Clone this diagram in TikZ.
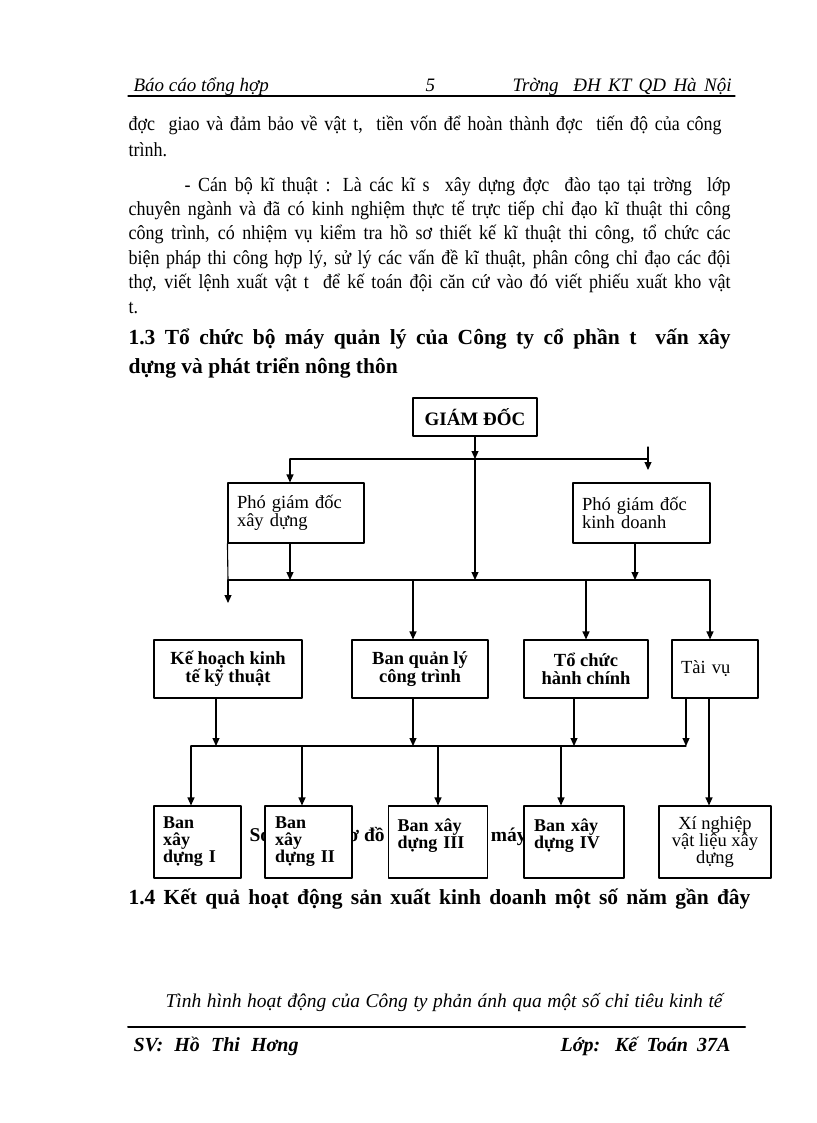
\documentclass[tikz,border=0pt]{standalone}
\usepackage{fontspec}
\setmainfont{Liberation Serif}
\newfontfamily\bodyfont[FakeStretch=0.9]{Liberation Serif}
\usetikzlibrary{arrows.meta}
\tikzset{
  box/.style={draw, line width=1.1pt, fill=white, inner sep=0pt},
  arr/.style={-{Triangle[length=8pt,width=7pt]}},
  txt/.style={anchor=base west, inner sep=0pt, font=\bodyfont\fontsize{20}{22}\selectfont},
  head/.style={anchor=base west, inner sep=0pt, font=\fontsize{21.5}{24}\selectfont\bfseries},
}
\begin{document}
\begin{tikzpicture}[x=1pt, y=-1pt, line width=1.1pt, line cap=round, line join=round]
  \fill[white] (0,0) rectangle (816,1123);
  \useasboundingbox (0,0) rectangle (816,1123);
  % header
  \node[txt, font=\fontsize{19}{20}\selectfont\itshape] (hl) at (133,92) {Báo cáo tổng hợp};
  \node[txt, font=\fontsize{19}{20}\selectfont\itshape] (hp) at (425,92) {5};
  \node[txt, font=\fontsize{19}{20}\selectfont\itshape] (hr) at (512,92) {\makebox[219pt][s]{Trờng\ \ ĐH KT QD Hà Nội}};
  \coordinate (hA) at (128,96);
  \coordinate (hB) at (735,96);
  \draw[line width=1.2pt] (hA) -- (hB);
  % body text
  \node[txt] (p1) at (128,131) {\makebox[593pt][s]{đợc\ \ giao và đảm bảo về vật t,\ \ tiền vốn để hoàn thành đợc\ \ tiến độ của công}};
  \node[txt] (p2) at (128,157) {trình.};
  \node[txt] (p3) at (184,192) {\makebox[546pt][s]{- Cán bộ kĩ thuật : Là các kĩ s\ \ xây dựng đợc\ \ đào tạo tại trờng\ \ lớp}};
  \node[txt] (p4) at (128,216) {\makebox[602pt][s]{chuyên ngành và đã có kinh nghiệm thực tế trực tiếp chỉ đạo kĩ thuật thi công}};
  \node[txt] (p5) at (128,240) {\makebox[602pt][s]{công trình, có nhiệm vụ kiểm tra hồ sơ thiết kế kĩ thuật thi công, tổ chức các}};
  \node[txt] (p6) at (128,264) {\makebox[602pt][s]{biện pháp thi công hợp lý, sử lý các vấn đề kĩ thuật, phân công chỉ đạo các đội}};
  \node[txt] (p7) at (128,288) {\makebox[602pt][s]{thợ, viết lệnh xuất vật t\ \ để kế toán đội căn cứ vào đó viết phiếu xuất kho vật}};
  \node[txt] (p8) at (128,313) {t.};
  \node[head] (s13a) at (128,344) {\makebox[602pt][s]{1.3 Tổ chức bộ máy quản lý của Công ty cổ phần t\ \ vấn xây}};
  \node[head] (s13b) at (128,373) {dựng và phát triển nông thôn};
  % caption, mostly hidden by the boxes
  \node[txt, font=\fontsize{19.5}{20}\selectfont\bfseries] (capt) at (249,841) {Sơ đồ số 1:\hspace{-9pt} Sơ đồ tổ chức bộ\hspace{10pt} máy công ty};
  % boxes
  \node[box, minimum width=124pt, minimum height=38pt, font=\fontsize{19}{20}\selectfont\bfseries] (gd) at (475,417) {GIÁM ĐỐC};
  \node[box, minimum height=60pt, inner xsep=9pt, text width=118pt, align=left, font=\fontsize{18.5}{18}\selectfont] (pxd) at (296,513) {Phó giám đốc\\xây dựng};
  \node[box, minimum height=60pt, inner xsep=9pt, text width=119pt, align=left, font=\fontsize{18.5}{18}\selectfont] (pkd) at (641.5,513) {Phó giám đốc\\kinh doanh};
  \node[box, minimum width=148pt, minimum height=58pt, align=center, font=\fontsize{18.5}{18}\selectfont\bfseries] (khkt) at (228,669) {Kế hoạch kinh\\tế kỹ thuật};
  \node[box, minimum width=136pt, minimum height=58pt, align=center, font=\fontsize{18.5}{18}\selectfont\bfseries] (bql) at (420,669) {Ban quản lý\\công trình};
  \node[box, minimum width=124pt, minimum height=58pt, align=center, font=\fontsize{18.5}{18}\selectfont\bfseries] (tchc) at (586,669) {Tổ chức\\hành chính};
  \node[box, minimum height=58pt, inner xsep=9pt, text width=68pt, align=left, font=\fontsize{18.5}{18}\selectfont] (tv) at (715,669) {Tài vụ};
  \node[box, minimum height=72pt, inner xsep=9pt, text width=69pt, align=left, font=\fontsize{18}{17}\selectfont\bfseries] (b1) at (197.5,842) {Ban\\xây\\dựng I};
  \node[box, minimum height=72pt, inner xsep=10pt, text width=67pt, align=left, font=\fontsize{18}{17}\selectfont\bfseries] (b2) at (308.5,842) {Ban\\xây\\dựng II};
  \node[box, minimum height=72pt, inner xsep=9pt, text width=81pt, align=left, font=\fontsize{18}{17}\selectfont\bfseries] (b3) at (438,842) {Ban xây\\dựng III\\~};
  \node[box, minimum height=72pt, inner xsep=10pt, text width=80pt, align=left, font=\fontsize{18}{17}\selectfont\bfseries] (b4) at (574,842) {Ban xây\\dựng IV\\~};
  \node[box, minimum width=112pt, minimum height=72pt, align=center, font=\fontsize{18.5}{17}\selectfont] (xn) at (715,842) {Xí nghiệp\\vật liệu xây\\dựng};
  % bus lines
  \coordinate (busA) at (0,459);
  \coordinate (busB) at (0,580);
  \coordinate (busC) at (0,746);
  \coordinate (aL) at (290,459);
  \coordinate (aR) at (648,459);
  \coordinate (aRtop) at (648,447);
  \coordinate (aRend) at (648,470);
  \coordinate (bL) at (228,580);
  \coordinate (bR) at (710,580);
  \coordinate (bLend) at (228,603);
  \coordinate (cL) at (191,746);
  \coordinate (cR) at (686,746);
  \coordinate (xkd) at (635,0);
  \coordinate (xq) at (413,0);
  \coordinate (xk) at (216,0);
  \coordinate (xt) at (574,0);
  \coordinate (x2) at (302,0);
  \coordinate (x4) at (561,0);
  \coordinate (x5) at (709,0);
  % level 1
  \draw[arr] (gd.south) -- (gd.south |- busA);
  \draw (aL) -- (aR);
  \draw[arr] (aL) -- (aL |- pxd.north);
  \draw[arr] (aRtop) -- (aRend);
  \draw[arr] (gd.south |- busA) -- (gd.south |- busB);
  % level 2
  \draw (bL) -- (bR);
  \draw (pxd.south west) -- (bL);
  \draw[arr] (aL |- pxd.south) -- (aL |- busB);
  \draw[arr] (xkd |- pkd.south) -- (xkd |- busB);
  \draw[arr] (bL) -- (bLend);
  \draw[arr] (xq |- busB) -- (xq |- bql.north);
  \draw[arr] (tchc.north |- busB) -- (tchc.north);
  \draw[arr] (bR) -- (bR |- tv.north);
  % level 3
  \draw (cL) -- (cR);
  \draw[arr] (xk |- khkt.south) -- (xk |- busC);
  \draw[arr] (xq |- bql.south) -- (xq |- busC);
  \draw[arr] (xt |- tchc.south) -- (xt |- busC);
  \draw[arr] (cR |- tv.south) -- (cR);
  \draw[arr] (cL) -- (cL |- b1.north);
  \draw[arr] (x2 |- busC) -- (x2 |- b2.north);
  \draw[arr] (b3.north |- busC) -- (b3.north);
  \draw[arr] (x4 |- busC) -- (x4 |- b4.north);
  \draw[arr] (x5 |- tv.south) -- (x5 |- xn.north);
  % section 1.4 and footer
  \node[head] (s14) at (128,904) {\makebox[622pt][s]{1.4 Kết quả hoạt động sản xuất kinh doanh một số năm gần đây}};
  \node[txt, font=\fontsize{19.5}{20}\selectfont\itshape] (intro) at (165,1007) {\makebox[557pt][s]{Tình hình hoạt động của Công ty phản ánh qua một số chỉ tiêu kinh tế}};
  \coordinate (fA) at (128,1027);
  \coordinate (fB) at (745,1027);
  \draw[line width=2pt] (fA) -- (fB);
  \node[txt, font=\fontsize{20}{20}\selectfont\bfseries\itshape] (sv) at (133,1051) {\makebox[165pt][s]{SV: Hồ Thi Hơng}};
  \node[txt, font=\fontsize{20}{20}\selectfont\bfseries\itshape] (lop) at (560,1051) {\makebox[170pt][s]{Lớp: Kế Toán 37A}};
\end{tikzpicture}
\end{document}
